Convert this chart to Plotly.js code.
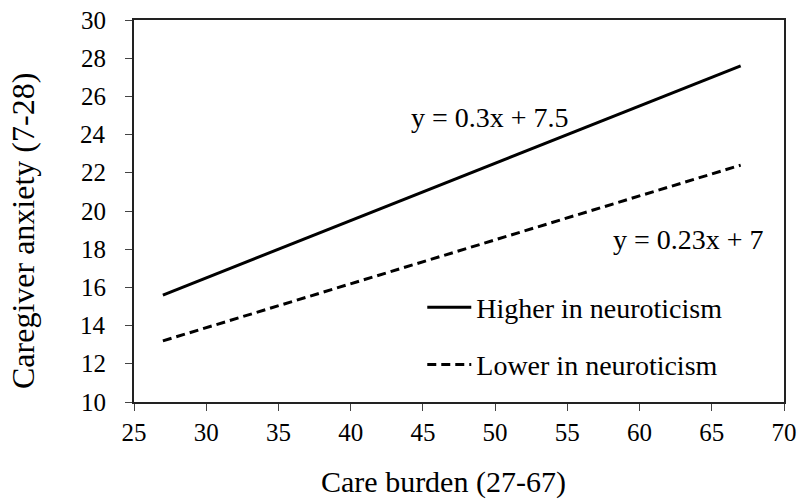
<!DOCTYPE html>
<html>
<head>
<meta charset="utf-8">
<script src="https://cdn.plot.ly/plotly-3.0.1.min.js"></script>
<style>html,body{margin:0;padding:0;background:#fff;}#chart{width:799px;height:500px;}</style>
</head>
<body>
<div id="chart"></div>
<script>
const burden = [27, 67];
const higherAnxiety = [15.6, 27.6];
const lowerAnxiety = [13.2, 22.4];
const seriesNames = ["Higher in neuroticism", "Lower in neuroticism"];
const equations = ["y = 0.3x + 7.5", "y = 0.23x + 7"];
const eqX = [49.65, 63.4];
const eqY = [24.9, 18.5];
const yTicks = [10, 12, 14, 16, 18, 20, 22, 24, 26, 28, 30];
const xTitle = "Care burden (27-67)";
const yTitle = "Caregiver anxiety (7-28)";

const font = "Liberation Serif, Times New Roman, serif";
const traces = [
  {x: burden, y: higherAnxiety, mode: "lines", name: seriesNames[0], legendgroup: "a",
   line: {color: "#000", width: 3}},
  {x: burden, y: lowerAnxiety, mode: "lines", name: seriesNames[1], legendgroup: "b",
   line: {color: "#000", width: 3, dash: "9px,5px"}}
];
const annotations = equations.map((t, i) => ({x: eqX[i], y: eqY[i], xref: "x", yref: "y", text: t, showarrow: false,
    font: {family: font, size: 28, color: "#000"}}));
yTicks.forEach(v => annotations.push({x: -0.04, y: v, xref: "paper", yref: "y", xanchor: "right", yanchor: "middle",
  text: String(v), showarrow: false, font: {family: font, size: 25, color: "#000"}}));
annotations.push({x: 0.4754, y: -0.21, xref: "paper", yref: "paper", xanchor: "center", yanchor: "middle",
  text: xTitle, showarrow: false, font: {family: font, size: 30, color: "#000"}});
annotations.push({x: -0.1708, y: 0.4476, xref: "paper", yref: "paper", xanchor: "center", yanchor: "middle",
  textangle: -90, text: yTitle, showarrow: false, font: {family: font, size: 32, color: "#000"}});

const layout = {
  width: 799, height: 500,
  margin: {l: 134, r: 15, t: 20, b: 98},
  paper_bgcolor: "#fff", plot_bgcolor: "#fff",
  font: {family: font, size: 24, color: "#000"},
  showlegend: true,
  legend: {x: 0.4435, y: 0.313, xanchor: "left", yanchor: "top", bgcolor: "rgba(0,0,0,0)", itemwidth: 44,
           font: {family: font, size: 28, color: "#000"}, tracegroupgap: 18, traceorder: "grouped"},
  xaxis: {range: [25, 70], dtick: 5, tick0: 25, ticks: "outside", ticklen: 7, tickcolor: "#444",
          showgrid: false, zeroline: false, showline: true, linecolor: "#222", linewidth: 2, mirror: true,
          tickfont: {family: font, size: 25}},
  yaxis: {range: [10, 30], tickvals: yTicks, ticks: "outside", ticklen: 7, tickcolor: "#444",
          showgrid: false, zeroline: false, showline: true, linecolor: "#222", linewidth: 2, mirror: true,
          showticklabels: false},
  annotations: annotations
};
Plotly.newPlot("chart", traces, layout, {displayModeBar: false});
</script>
</body>
</html>
